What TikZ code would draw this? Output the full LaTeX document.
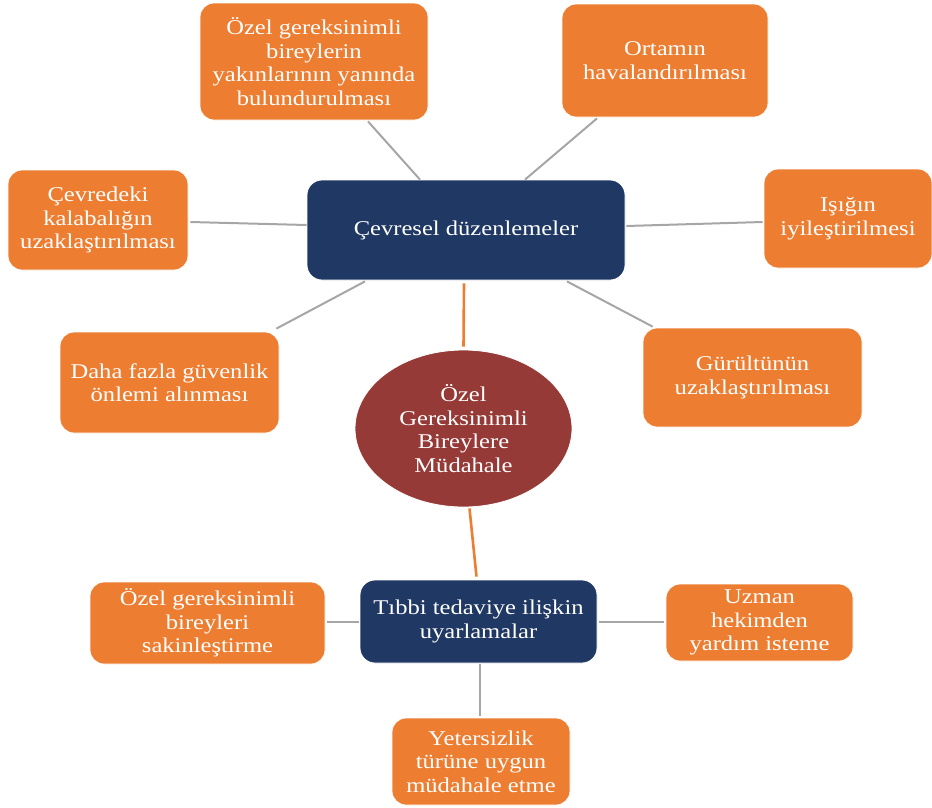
\documentclass[tikz,border=0pt]{standalone}
\usepackage{fontspec}
\setmainfont{Liberation Serif}[FakeStretch=1.17]
\usetikzlibrary{calc,shapes.geometric}
\definecolor{boxorange}{HTML}{ED7D31}
\definecolor{hubnavy}{HTML}{203864}
\definecolor{corered}{HTML}{963A38}
\definecolor{linkgray}{HTML}{A6A6A6}
\begin{document}
\begin{tikzpicture}[x=1pt,y=-1pt,
  every node/.style={font=\fontsize{21}{23.5}\selectfont, text=white, align=center, inner sep=0pt},
  leaf/.style 2 args={fill=boxorange, draw=white, line width=0.8pt, rounded corners=14pt,
    minimum width=#1, minimum height=#2},
  hub/.style 2 args={fill=hubnavy, draw=white, line width=0.8pt, rounded corners=15pt,
    minimum width=#1, minimum height=#2},
  link/.style={draw=linkgray, line width=2pt},
  spine/.style={draw=boxorange, line width=2.6pt}]
\useasboundingbox (0,0) rectangle (932,807);

% central topic
\node[ellipse, fill=corered, draw=white, line width=0.8pt,
      minimum width=217, minimum height=157] (core) at (463.5,428.5)
  {Özel\\Gereksinimli\\Bireylere\\Müdahale};

% environmental arrangements
\node[hub={318}{100}] (cev) at (466,230) {Çevresel düzenlemeler};
\node[leaf={228}{117}] (b1) at (314,61.5)
  {Özel gereksinimli\\bireylerin\\yakınlarının yanında\\bulundurulması};
\node[leaf={206}{113}] (b2) at (665,60.5) {Ortamın\\havalandırılması};
\node[leaf={180}{100}] (b3) at (98,220) {Çevredeki\\kalabalığın\\uzaklaştırılması};
\node[leaf={168}{99}] (b5) at (848,218.5) {Işığın\\iyileştirilmesi};
\node[leaf={219}{101}] (b6) at (169.5,382.5) {Daha fazla güvenlik\\önlemi alınması};
\node[leaf={219}{99}] (b7) at (752.5,377.5) {Gürültünün\\uzaklaştırılması};

% medical adaptations
\node[hub={237}{83}] (tib) at (478.5,621.5) {Tıbbi tedaviye ilişkin\\uyarlamalar};
\node[leaf={235}{82}] (b10) at (207.5,623) {Özel gereksinimli\\bireyleri\\sakinleştirme};
\node[leaf={187}{77}] (b11) at (759.5,622.5) {Uzman\\hekimden\\yardım isteme};
\node[leaf={178}{87}] (b12) at (481,761.5) {Yetersizlik\\türüne uygun\\müdahale etme};

% connectors
\draw[link] ($(b1.south)+(54,1)$) -- ($(cev.north)+(-46,0)$);
\draw[link] ($(b2.south)+(-68,1)$) -- ($(cev.north)+(59,0)$);
\draw[link] ($(b3.east)+(2,2)$) -- ($(cev.west)+(0,-5)$);
\draw[link] ($(cev.east)+(1,-4)$) -- ($(b5.west)+(-1,3.5)$);
\draw[link] ($(b6.north east)+(-3,-3)$) -- ($(cev.south)+(-101,1)$);
\draw[link] ($(cev.south)+(101,1)$) -- ($(b7.north west)+(10,-1)$);
\draw[spine] ($(cev.south)+(-2,3)$) -- ($(core.north)+(0,-3)$);
\draw[spine] ($(core.south)+(6,1)$) -- ($(tib.north)+(-2,-3)$);
\draw[link] ($(b10.east)+(2,-1)$) -- ($(tib.west)+(-1,0.5)$);
\draw[link] ($(tib.east)+(2,0.5)$) -- ($(b11.west)+(-2,-0.5)$);
\draw[link] ($(tib.south)+(1.5,1)$) -- ($(b12.north)+(-1,-2)$);
\end{tikzpicture}
\end{document}
